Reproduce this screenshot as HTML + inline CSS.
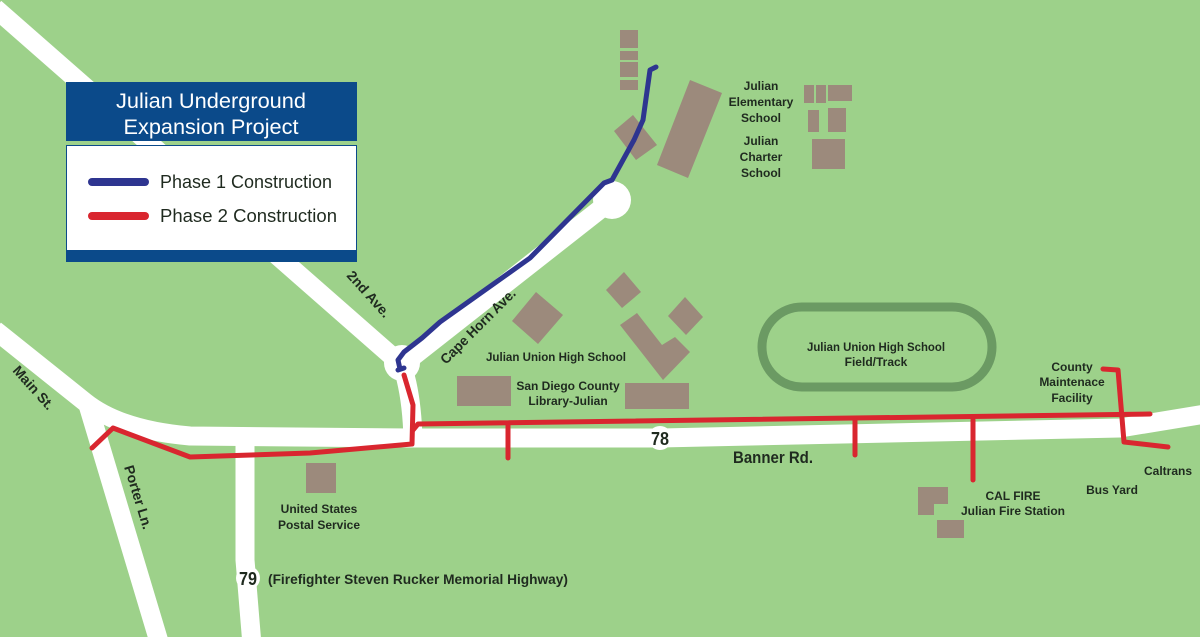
<!DOCTYPE html>
<html><head><meta charset="utf-8"><style>
html,body{margin:0;padding:0;background:#9dd18a;}
svg{display:block}
text{font-family:"Liberation Sans",sans-serif;font-weight:bold;fill:#1f2a1f;}
</style></head><body>
<svg width="1200" height="637" viewBox="0 0 1200 637" xmlns="http://www.w3.org/2000/svg">
<rect width="1200" height="637" fill="#9dd18a"/>
<g fill="none" stroke="#fff" stroke-width="19" stroke-linejoin="round" stroke-linecap="butt">
<path d="M-5,8 L402,365"/>
<path d="M402,365 L612,200"/>
<path d="M-5,330 L85,402 Q120,430 190,436 L410,438 L660,438 L1120,428 L1205,414"/>
<path d="M88,405 L160,645"/>
<path d="M245,440 L245,560 L252,645"/>
<path d="M402,365 Q412,395 413,440"/>
</g>
<circle cx="612" cy="200" r="19" fill="#fff"/>
<circle cx="402" cy="363" r="18" fill="#fff"/>
<g fill="#9c8a7c">
<rect x="620" y="30" width="18" height="18"/><rect x="620" y="51" width="18" height="9"/>
<rect x="620" y="62" width="18" height="15"/><rect x="620" y="80" width="18" height="10"/>
<polygon points="614,131 633,115 657,145 636,160"/>
<polygon points="690,80 722,93 688,178 657,165"/>
<rect x="804" y="85" width="10" height="18"/><rect x="816" y="85" width="10" height="18"/>
<rect x="828" y="85" width="24" height="16"/><rect x="808" y="110" width="11" height="22"/>
<rect x="828" y="108" width="18" height="24"/><rect x="812" y="139" width="33" height="30"/>
<polygon points="512,321 536,292 563,315 538,344"/>
<polygon points="606,290 624,272 641,292 622,308"/>
<polygon points="668,316 685,297 703,317 686,335"/>
<polygon points="620,325 637,313 662,345 675,337 690,352 663,380"/>
<rect x="457" y="376" width="54" height="30"/>
<rect x="625" y="383" width="64" height="26"/>
<rect x="306" y="463" width="30" height="30"/>
<polygon points="918,487 948,487 948,504 934,504 934,515 918,515"/>
<rect x="937" y="520" width="27" height="18"/>
</g>
<rect x="762" y="307" width="230" height="80" rx="40" fill="none" stroke="#6b9a63" stroke-width="9"/>
<g fill="none" stroke="#d9262f" stroke-width="5" stroke-linecap="round" stroke-linejoin="round">
<path d="M92,448 L113,428 L190,457 L310,453 L412,444 L413,405 L404,375"/>
<path d="M413,430 L418,424 L1150,414"/>
<path d="M508,425 L508,458"/><path d="M855,420 L855,455"/><path d="M973,420 L973,480"/>
<path d="M1103,369 L1118,370 L1124,442 L1168,447"/>
</g>
<path d="M398,370 L404,368 M400,369 L398,360 L404,352 L422,338 L440,322 L530,258 L604,183 L612,180 L634,140 L643,120 L650,70 L656,67" fill="none" stroke="#2e3590" stroke-width="5" stroke-linecap="round" stroke-linejoin="round"/>
<circle cx="660" cy="438" r="12" fill="#fff"/><text x="660" y="445" font-size="18" text-anchor="middle" textLength="18" lengthAdjust="spacingAndGlyphs">78</text>
<circle cx="248" cy="578" r="12" fill="#fff"/><text x="248" y="585" font-size="18" text-anchor="middle" textLength="18" lengthAdjust="spacingAndGlyphs">79</text>
<rect x="66" y="82" width="291" height="59" fill="#0b4a8a"/>
<text x="211" y="108" font-size="21" text-anchor="middle" style="fill:#fff;font-weight:normal" textLength="190" lengthAdjust="spacingAndGlyphs">Julian Underground</text>
<text x="211" y="134" font-size="21" text-anchor="middle" style="fill:#fff;font-weight:normal" textLength="175" lengthAdjust="spacingAndGlyphs">Expansion Project</text>
<rect x="66.5" y="145.5" width="290" height="105" fill="#fff" stroke="#0b4a8a"/>
<rect x="66" y="250" width="291" height="12" fill="#0b4a8a"/>
<line x1="92" y1="182" x2="145" y2="182" stroke="#2e3590" stroke-width="8" stroke-linecap="round"/>
<line x1="92" y1="216" x2="145" y2="216" stroke="#d9262f" stroke-width="8" stroke-linecap="round"/>
<text x="160" y="188" font-size="18" style="font-weight:normal" textLength="172" lengthAdjust="spacingAndGlyphs">Phase 1 Construction</text>
<text x="160" y="222" font-size="18" style="font-weight:normal" textLength="177" lengthAdjust="spacingAndGlyphs">Phase 2 Construction</text>
<g font-size="12" text-anchor="middle">
<text x="761" y="90">Julian</text><text x="761" y="106">Elementary</text><text x="761" y="122">School</text>
<text x="761" y="145">Julian</text><text x="761" y="161">Charter</text><text x="761" y="177">School</text>
<text x="556" y="361" textLength="140" lengthAdjust="spacingAndGlyphs">Julian Union High School</text>
<text x="568" y="390">San Diego County</text><text x="568" y="405">Library-Julian</text>
<text x="876" y="351" textLength="138" lengthAdjust="spacingAndGlyphs">Julian Union High School</text><text x="876" y="366">Field/Track</text>
<text x="1072" y="371">County</text><text x="1072" y="386">Maintenace</text><text x="1072" y="402">Facility</text>
<text x="1168" y="475">Caltrans</text>
<text x="1112" y="494">Bus Yard</text>
<text x="1013" y="500">CAL FIRE</text><text x="1013" y="515">Julian Fire Station</text>
<text x="319" y="513">United States</text><text x="319" y="529">Postal Service</text>
</g>
<text x="733" y="463" font-size="17" textLength="80" lengthAdjust="spacingAndGlyphs">Banner Rd.</text>
<text x="268" y="584" font-size="14" textLength="300" lengthAdjust="spacingAndGlyphs">(Firefighter Steven Rucker Memorial Highway)</text>
<text font-size="14" transform="translate(346,276) rotate(48)">2nd Ave.</text>
<text font-size="14" transform="translate(446,365) rotate(-45)" textLength="100" lengthAdjust="spacingAndGlyphs">Cape Horn Ave.</text>
<text font-size="14" transform="translate(12,371) rotate(48)">Main St.</text>
<text font-size="14" transform="translate(124,467) rotate(73)">Porter Ln.</text>
</svg>
</body></html>
